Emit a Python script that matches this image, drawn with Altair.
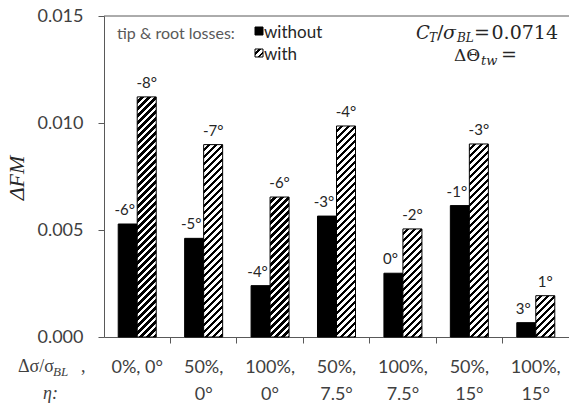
import math
import altair as alt

# Rotor configurations (solidity change, taper) and figure-of-merit gains
cases = ["0%, 0°", "50%,|0°", "100%,|0°", "50%,|7.5°", "100%,|7.5°", "50%,|15°", "100%,|15°"]
dfm_without = [0.00528, 0.00461, 0.00240, 0.00565, 0.00298, 0.00614, 0.00067]
dfm_with = [0.01122, 0.00899, 0.00654, 0.00986, 0.00505, 0.00902, 0.00193]
twist_without = ["-6°", "-5°", "-4°", "-3°", "0°", "-1°", "3°"]
twist_with = ["-8°", "-7°", "-6°", "-4°", "-2°", "-3°", "1°"]
loss_models = ["without", "with"]

# Layout of the plotting area (pixels)
W, H = 465, 321
LEFT, TOP = 104, 16
Y_MAX = 0.015
BAR_W = (W / len(cases)) / 3.496

SANS = "Lato"
SERIF = "Liberation Serif"
MATH = "DejaVu Serif"
DARK = "#262626"
GREY = "#404040"


def hatch(w, h, period=7.0, ink=0.45):
    """Diagonal (/) stripes as a linear gradient in bounding-box units."""
    k = (w + h) / (w * w + h * h)
    n = (w + h) / period
    stops = []
    for i in range(int(math.ceil(n))):
        s0 = min(i / n, 1.0)
        s1 = min((i + 1 - ink) / n, 1.0)
        s2 = min((i + 1) / n, 1.0)
        stops += [
            {"offset": s0, "color": "white"},
            {"offset": s1, "color": "white"},
            {"offset": s1, "color": "black"},
            {"offset": s2, "color": "black"},
        ]
    return {"gradient": "linear", "x1": 0, "y1": 0, "x2": k * w, "y2": k * h, "stops": stops}


records = []
for case, v0, v1, t0, t1 in zip(cases, dfm_without, dfm_with, twist_without, twist_with):
    records.append({"case": case, "losses": "without", "dfm": v0, "twist": t0, "fill": "#000000"})
    records.append({"case": case, "losses": "with", "dfm": v1, "twist": t1,
                    "fill": hatch(BAR_W, v1 * H / Y_MAX)})

base = alt.Chart(alt.Data(values=records))

x_enc = alt.X(
    "case:N",
    sort=cases,
    scale=alt.Scale(paddingInner=0, paddingOuter=0),
    axis=alt.Axis(
        title=None,
        bandPosition=0,
        labelExpr="split(datum.label, '|')",
        labelAngle=0,
        labelFont=SANS,
        labelFontSize=18,
        labelColor=GREY,
        labelLineHeight=27,
        labelPadding=15,
        labelOverlap=False,
        labelBound=False,
        labelFlush=False,
        tickSize=6,
        tickColor="#595959",
        tickOpacity={"condition": {"test": "datum.value == '0%, 0°'", "value": 0}, "value": 1},
        domainColor="#595959",
    ),
)
xo_enc = alt.XOffset("losses:N", sort=loss_models, scale=alt.Scale(paddingOuter=0.748, paddingInner=0))
y_scale = alt.Scale(domain=[0, Y_MAX], nice=False)

bars = base.mark_bar(stroke="black", strokeWidth=1).encode(
    x=x_enc,
    xOffset=xo_enc,
    y=alt.Y(
        "dfm:Q",
        scale=y_scale,
        axis=alt.Axis(
            values=[0, 0.005, 0.010, 0.015],
            format=".3f",
            grid=False,
            tickSize=6,
            tickColor="#595959",
            domainColor="#595959",
            labelFont=SANS,
            labelFontSize=18,
            labelColor=GREY,
            labelPadding=15,
            title=None,
        ),
    ),
    fill=alt.Fill("fill:N", scale=None),
)


def twist_labels(model, shift):
    return base.transform_filter(alt.datum.losses == model).mark_text(
        font=SANS, fontSize=15, color=DARK, baseline="alphabetic", dy=-9, dx=shift
    ).encode(x=x_enc, xOffset=xo_enc, y=alt.Y("dfm:Q", scale=y_scale), text="twist:N")


def note(text, x, y, size, font=SANS, color=DARK, style="normal", align="left",
         baseline="alphabetic", angle=0):
    return alt.Chart(alt.Data(values=[{}])).mark_text(
        text=text, font=font, fontSize=size, color=color, fontStyle=style,
        align=align, baseline=baseline, angle=angle,
    ).encode(x=alt.value(x - LEFT), y=alt.value(y - TOP))


def swatch(x0, y0, x1, y1, fill):
    return alt.Chart(alt.Data(values=[{}])).mark_rect(
        fill=fill, stroke="black", strokeWidth=1
    ).encode(x=alt.value(x0 - LEFT), x2=alt.value(x1 - LEFT),
             y=alt.value(y0 - TOP), y2=alt.value(y1 - TOP))


top_frame = alt.Chart(alt.Data(values=[{}])).mark_rule(color="#595959").encode(
    x=alt.value(0), x2=alt.value(W), y=alt.value(0)
)

layers = [
    top_frame,
    bars,
    twist_labels("without", -3),
    twist_labels("with", 0),
    # y-axis title
    note("ΔFM", 17, 178, 22, font=SERIF, style="italic", align="center",
         baseline="middle", angle=270),
    # legend
    note("tip & root losses:", 117, 39, 16, color="#595959"),
    swatch(255, 27, 263, 35, "#000000"),
    note("without", 264, 38, 17),
    swatch(255, 49, 263, 57, hatch(8, 8, period=6.5, ink=0.4)),
    note("with", 264, 60, 17),
    # thrust coefficient annotation
    note("C", 416, 39, 18, font=MATH, style="italic"),
    note("T", 429, 42, 12, font=MATH, style="italic"),
    note("/", 437, 39, 19, font=MATH),
    note("σ", 443, 39, 19, font=MATH, style="italic"),
    note("BL", 457, 42, 12, font=MATH, style="italic"),
    note("=", 474, 39, 19, font=MATH),
    note("0.0714", 558, 39, 19, font=MATH, align="right"),
    note("ΔΘ", 454, 61, 17, font=MATH),
    note("tw", 481, 65, 13, font=MATH, style="italic"),
    note("=", 501, 61, 19, font=MATH),
    # category axis caption
    note("Δσ/σ", 18, 372, 18, font=SERIF, color=GREY),
    note("BL", 53, 376, 13, font=SERIF, style="italic", color=GREY),
    note(",", 81, 372, 18, font=SERIF, color=GREY),
    note("η:", 43, 399, 18, font=SERIF, style="italic", color=GREY),
]

chart = alt.layer(*layers).properties(
    width=W,
    height=H,
    autosize=alt.AutoSizeParams(type="none"),
    padding={"left": LEFT, "top": TOP, "right": 0, "bottom": 407 - TOP - H},
).configure_view(stroke=None)

chart.save("out.html", embed_options={"renderer": "svg", "actions": False})
